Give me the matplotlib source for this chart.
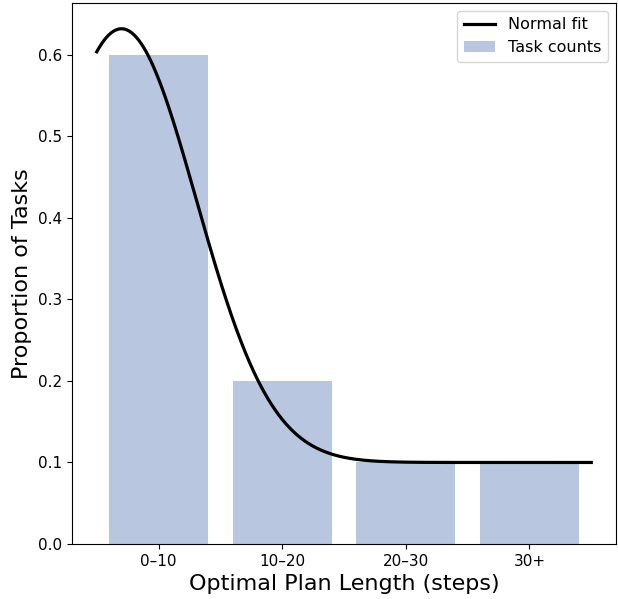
import numpy as np
import matplotlib
matplotlib.use("Agg")
import matplotlib.pyplot as plt

categories = ["0–10", "10–20", "20–30", "30+"]
proportions = [0.6, 0.2, 0.1, 0.1]

# Normal fit parameters
fit_mu = -0.3
fit_sigma = 0.605
fit_amp = 0.532
fit_base = 0.1

fig = plt.figure(figsize=(6.18, 5.99), dpi=100)
ax = fig.add_axes([72/618, 1-544/599, (616-72)/618, (544-3)/599])

x = np.arange(len(categories))
ax.bar(x, proportions, width=0.8, color="#b9c6e0", label="Task counts")

xs = np.linspace(-0.5, len(categories) - 0.5, 400)
ys = fit_base + fit_amp * np.exp(-(xs - fit_mu) ** 2 / (2 * fit_sigma ** 2))
ax.plot(xs, ys, color="black", lw=2.3, label="Normal fit")

ax.set_xticks(x)
ax.set_xticklabels(categories)
ax.set_xlabel("Optimal Plan Length (steps)", fontsize=16)
ax.set_ylabel("Proportion of Tasks", fontsize=16)
ax.tick_params(labelsize=11)
ax.legend(loc="upper right", fontsize=11.5)

fig.savefig("out.png", dpi=100)
